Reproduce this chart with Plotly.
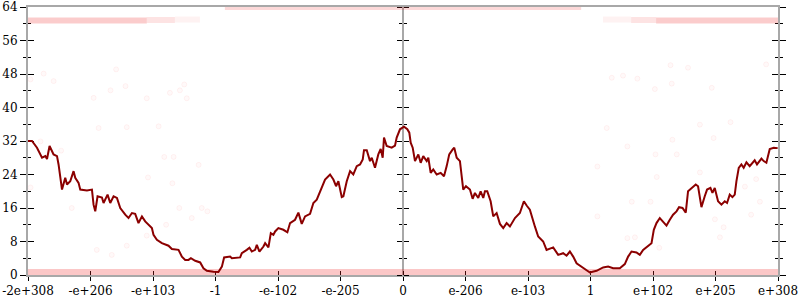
import plotly.graph_objects as go

# ---- tick labels (positions 0..12 on the axis) ----
tick_pos = list(range(13))
tick_text = ["-2e+308", "-e+206", "-e+103", "-1", "-e-102", "-e-205", "0",
             "e-206", "e-103", "1", "e+102", "e+205", "e+308"]

# ---- main dark-red series ----
line_x = [0.00, 0.064, 0.144, 0.224, 0.277, 0.304, 0.345, 0.384, 0.409, 0.464, 0.489, 0.544,
          0.596, 0.624, 0.676, 0.729, 0.756, 0.809, 0.836, 0.943, 1.023, 1.049, 1.076, 1.113,
          1.183, 1.209, 1.273, 1.316, 1.369, 1.423, 1.476, 1.556, 1.608, 1.663, 1.715, 1.768,
          1.823, 1.875, 1.928, 1.982, 2.008, 2.062, 2.142, 2.248, 2.302, 2.408, 2.462, 2.515,
          2.568, 2.606, 2.675, 2.755, 2.807, 2.862, 2.967, 3.047,
          3.102, 3.138, 3.234, 3.262, 3.394, 3.421, 3.501, 3.543, 3.581, 3.634, 3.661, 3.703,
          3.767, 3.794, 3.847, 3.885, 3.926, 3.954, 4.006, 4.086, 4.150, 4.193, 4.273, 4.326,
          4.380, 4.433, 4.513, 4.566, 4.620, 4.673, 4.753, 4.833, 4.886, 4.929, 4.966, 5.020,
          5.046, 5.100, 5.153, 5.205, 5.260, 5.313, 5.356, 5.376, 5.420, 5.472, 5.500, 5.552,
          5.605, 5.643, 5.675, 5.696, 5.739, 5.819, 5.872, 5.899, 5.952, 6.016, 6.069,
          6.101, 6.123, 6.155, 6.192, 6.245, 6.283, 6.324, 6.379, 6.405, 6.443, 6.484, 6.539,
          6.603, 6.656, 6.699, 6.740, 6.795, 6.820, 6.859, 6.911, 6.964, 7.007, 7.071, 7.114,
          7.151, 7.204, 7.242, 7.284, 7.311, 7.348, 7.402, 7.444, 7.498, 7.551, 7.604, 7.658,
          7.711, 7.791, 7.870, 7.934, 7.978, 8.030, 8.110, 8.163, 8.243, 8.297, 8.403, 8.483,
          8.563, 8.617, 8.670, 8.723, 8.777, 8.857, 8.937, 8.990, 9.097,
          9.202, 9.282, 9.362, 9.469, 9.549, 9.602, 9.656, 9.736, 9.789, 9.842, 9.922, 9.976,
          10.013, 10.056, 10.109, 10.152, 10.189, 10.216, 10.269, 10.321, 10.376, 10.417,
          10.472, 10.524, 10.561, 10.615, 10.684, 10.721, 10.748, 10.775, 10.828, 10.865,
          10.919, 10.951, 10.988, 11.041, 11.095, 11.148, 11.185, 11.228, 11.271, 11.308,
          11.335, 11.372, 11.414, 11.451, 11.495, 11.547, 11.627, 11.664, 11.735, 11.771,
          11.814, 11.868, 11.932, 11.995]
line_y = [32.0, 32.0, 30.4, 28.0, 28.4, 27.7, 30.8, 29.6, 28.8, 28.4, 26.4, 20.4,
          23.2, 21.6, 22.4, 24.8, 23.2, 22.0, 20.4, 20.2, 20.4, 16.8, 15.2, 18.8,
          18.5, 17.2, 19.2, 17.2, 18.8, 18.4, 16.0, 14.4, 13.6, 14.8, 14.6, 12.4,
          14.0, 12.8, 12.0, 11.2, 9.6, 8.4, 7.6, 7.0, 6.2, 6.0, 4.4, 3.6,
          3.6, 4.0, 3.4, 3.0, 1.6, 1.0, 0.8, 0.7,
          2.0, 4.2, 4.4, 4.0, 4.2, 5.2, 6.0, 6.5, 5.6, 6.0, 7.2, 5.6,
          6.8, 7.6, 6.6, 10.0, 9.6, 10.4, 11.2, 10.8, 10.2, 12.4, 13.2, 14.9,
          12.2, 14.0, 14.6, 17.2, 18.0, 20.0, 22.8, 24.0, 22.8, 21.2, 22.4, 18.6,
          18.8, 22.4, 24.8, 24.0, 26.0, 26.4, 27.6, 29.8, 29.8, 27.2, 28.0, 25.6,
          28.8, 30.1, 28.0, 32.8, 30.8, 30.4, 30.9, 32.8, 34.8, 35.4, 34.8,
          34.0, 31.6, 30.4, 27.2, 28.8, 26.8, 28.4, 27.2, 28.0, 24.4, 25.2, 24.0,
          24.4, 23.6, 26.0, 28.8, 30.0, 30.4, 28.0, 27.2, 20.4, 21.2, 20.4, 18.2,
          19.6, 18.4, 20.0, 18.4, 20.0, 20.0, 17.6, 14.0, 14.8, 12.2, 11.2, 12.4,
          11.6, 13.6, 14.8, 17.6, 16.6, 15.6, 11.6, 9.2, 8.0, 6.0, 6.6, 4.8,
          5.2, 4.6, 5.6, 4.4, 2.8, 2.0, 1.2, 0.6, 1.0,
          1.8, 2.0, 1.6, 1.6, 2.6, 4.4, 5.6, 5.4, 4.8, 6.0, 7.0, 7.6,
          10.8, 12.4, 13.6, 12.8, 12.4, 11.8, 13.2, 14.4, 15.2, 16.2,
          16.0, 14.9, 20.0, 20.8, 21.6, 21.2, 18.4, 16.2, 18.8, 20.4,
          20.8, 19.6, 20.8, 17.6, 16.8, 17.6, 17.2, 19.2, 18.6, 19.2,
          22.4, 25.6, 26.4, 25.6, 26.9, 26.0, 27.4, 26.4, 27.8, 27.2,
          26.8, 30.1, 30.4, 30.3]

# ---- faint scattered points ----
dot_x = [0.04, 0.25, 0.41, 1.41, 1.32, 1.56, 1.05, 1.90, 2.27, 2.43, 2.50, 2.54,
         9.34, 9.52, 9.75, 10.03, 10.28, 10.30, 10.56, 10.94, 11.81,
         1.13, 1.58, 2.09, 0.53, 0.20, 2.18, 2.33, 2.73, 1.92, 2.31, 0.04, 0.70,
         2.42, 2.62, 2.78, 2.87, 2.21, 1.10, 1.34, 1.58, 1.90,
         9.26, 9.59, 10.04, 10.38, 10.31, 10.75, 10.97, 11.24, 9.11, 10.75, 10.06,
         11.65, 9.66, 9.96, 11.47, 11.71, 9.11, 10.99, 11.13, 11.57, 9.59, 9.71,
         11.07, 10.10]
dot_y = [46.7, 48.1, 46.3, 49.1, 44.1, 45.1, 42.3, 42.2, 43.5, 44.1, 45.5, 42.2,
         47.1, 47.6, 46.9, 44.4, 50.1, 45.7, 49.5, 44.7, 50.3,
         35.1, 35.3, 35.5, 29.7, 31.9, 28.2, 28.2, 26.3, 23.3, 21.9, 20.9, 16.0,
         16.0, 13.6, 16.0, 15.2, 12.0, 6.0, 4.8, 7.0, 9.4,
         35.1, 30.7, 28.8, 28.8, 32.3, 35.9, 32.7, 36.5, 25.9, 24.5, 23.4,
         22.9, 17.5, 17.5, 21.1, 17.5, 14.0, 13.3, 11.4, 14.4, 8.8, 9.0,
         9.0, 6.5]

# ---- dense pink bands (start x, end x, level, opacity) ----
band_x0 = [0.0, 0.0, 1.9, 2.35, 3.15, 9.2, 9.65, 10.05]
band_x1 = [12.0, 1.9, 2.35, 2.75, 8.85, 9.65, 10.05, 12.0]
band_y = [0.7, 60.8, 60.9, 61.0, 64.0, 61.0, 60.9, 60.8]
band_a = [0.26, 0.24, 0.13, 0.06, 0.18, 0.06, 0.13, 0.24]

fig = go.Figure()

fig.add_trace(go.Scatter(
    x=dot_x, y=dot_y, mode="markers", showlegend=False, hoverinfo="skip",
    marker=dict(size=5, color="rgba(255,0,0,0.025)",
                line=dict(color="rgba(255,0,0,0.05)", width=1))))

for x0, x1, yv, a in zip(band_x0, band_x1, band_y, band_a):
    fig.add_trace(go.Scatter(
        x=[x0, x1], y=[yv, yv], mode="lines", showlegend=False, hoverinfo="skip",
        line=dict(color=f"rgba(240,40,40,{a})", width=6)))

fig.add_trace(go.Scatter(
    x=line_x, y=line_y, mode="lines", showlegend=False,
    line=dict(color="#8b0000", width=2)))

# empty traces so the overlay axes (crossing ticks, centre axis) are drawn
for xa, ya in [("x2", "y"), ("x", "y2"), ("x", "y3"), ("x", "y4")]:
    fig.add_trace(go.Scatter(x=[None], y=[None], xaxis=xa, yaxis=ya,
                             mode="lines", showlegend=False, hoverinfo="skip"))

font = dict(family="DejaVu Serif", size=12, color="black")
grey = "#a8a8a8"
minor_out = dict(dtick=4, ticks="outside", ticklen=3, tickcolor="black", tickwidth=1)
minor_in = dict(dtick=4, ticks="inside", ticklen=3, tickcolor="black", tickwidth=1)

fig.update_layout(
    width=800, height=300,
    margin=dict(l=28, r=22, t=7, b=25, pad=0),
    paper_bgcolor="white", plot_bgcolor="white",
    font=font,
    xaxis=dict(range=[0, 12], tickvals=tick_pos, ticktext=tick_text,
               ticks="outside", ticklen=4, tickwidth=1, tickcolor="black",
               showline=True, linecolor=grey, linewidth=2, mirror=True,
               showgrid=False, zeroline=False, layer="below traces",
               tickfont=font, automargin=False),
    xaxis2=dict(range=[0, 12], tickvals=tick_pos, overlaying="x", anchor="y",
                side="bottom", ticks="inside", ticklen=4, tickwidth=1,
                tickcolor="black", showticklabels=False, showline=False,
                showgrid=False, zeroline=False, layer="below traces", automargin=False),
    yaxis=dict(range=[0, 64], tick0=0, dtick=8, ticks="outside", ticklen=6,
               tickwidth=1, tickcolor="black", mirror="ticks",
               showline=True, linecolor=grey, linewidth=2, minor=minor_out,
               showgrid=False, zeroline=False, layer="below traces", tickfont=font,
               automargin=False),
    yaxis2=dict(range=[0, 64], tick0=0, dtick=8, overlaying="y", anchor="x",
                ticks="inside", ticklen=6, tickwidth=1, tickcolor="black",
                mirror="ticks", showticklabels=False, showline=False, minor=minor_in,
                showgrid=False, zeroline=False, layer="below traces", automargin=False),
    yaxis3=dict(range=[0, 64], tick0=0, dtick=8, overlaying="y", anchor="free",
                position=0.5, side="left", ticks="outside", ticklen=5, tickwidth=1,
                tickcolor="black", showticklabels=False, showline=True,
                linecolor=grey, linewidth=2, minor=minor_out,
                showgrid=False, zeroline=False, layer="below traces", automargin=False),
    yaxis4=dict(range=[0, 64], tick0=0, dtick=8, overlaying="y", anchor="free",
                position=0.5, side="right", ticks="outside", ticklen=5, tickwidth=1,
                tickcolor="black", showticklabels=False, showline=False, minor=minor_out,
                showgrid=False, zeroline=False, layer="below traces", automargin=False),
)

fig.write_html("out.html")
